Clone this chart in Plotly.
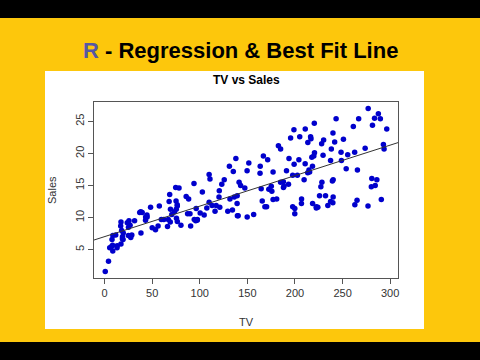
import numpy as np
import plotly.graph_objects as go

tv = [230.1, 44.5, 17.2, 151.5, 180.8, 8.7, 57.5, 120.2, 8.6, 199.8, 66.1, 214.7, 23.8, 97.5, 204.1, 195.4, 67.8, 281.4, 69.2, 147.3,
      218.4, 237.4, 13.2, 228.3, 62.3, 262.9, 142.9, 240.1, 248.8, 70.6, 292.9, 112.9, 97.2, 265.6, 95.7, 290.7, 266.9, 74.7, 43.1, 228.0,
      202.5, 177.0, 293.6, 206.9, 25.1, 175.1, 89.7, 239.9, 227.2, 66.9, 199.8, 100.4, 216.4, 182.6, 262.7, 198.9, 7.3, 136.2, 210.8, 210.7,
      53.5, 261.3, 239.3, 102.7, 131.1, 69.0, 31.5, 139.3, 237.4, 216.8, 199.1, 109.8, 26.8, 129.4, 213.4, 16.9, 27.5, 120.5, 5.4, 116.0,
      76.4, 239.8, 75.3, 68.4, 213.5, 193.2, 76.3, 110.7, 88.3, 109.8, 134.3, 28.6, 217.7, 250.9, 107.4, 163.3, 197.6, 184.9, 289.7, 135.2,
      222.4, 296.4, 280.2, 187.9, 238.2, 137.9, 25.0, 90.4, 13.1, 255.4, 225.8, 241.7, 175.7, 209.6, 78.2, 75.1, 139.2, 76.4, 125.7, 19.4,
      141.3, 18.8, 224.0, 123.1, 229.5, 87.2, 7.8, 80.2, 220.3, 59.6, 0.7, 265.2, 8.4, 219.8, 36.9, 48.3, 25.6, 273.7, 43.0, 184.9,
      73.4, 193.7, 220.5, 104.6, 96.2, 140.3, 240.1, 243.2, 38.0, 44.7, 280.7, 121.0, 197.6, 171.3, 187.8, 4.1, 93.9, 149.8, 11.7, 131.7,
      172.5, 85.7, 188.4, 163.5, 117.2, 234.5, 17.9, 206.8, 215.4, 284.3, 50.0, 164.5, 19.6, 168.4, 222.4, 276.9, 248.4, 170.2, 276.7, 165.6,
      156.6, 218.5, 56.2, 287.6, 253.8, 205.0, 139.5, 191.1, 286.0, 18.7, 39.5, 75.5, 17.2, 166.8, 149.7, 38.2, 94.2, 177.0, 283.6, 232.1]
sales = [22.1, 10.4, 9.3, 18.5, 12.9, 7.2, 11.8, 13.2, 4.8, 10.6, 8.6, 17.4, 9.2, 9.7, 19.0, 22.4, 12.5, 24.4, 11.3, 14.6,
         18.0, 12.5, 5.6, 15.5, 9.7, 12.0, 15.0, 15.9, 18.9, 10.5, 21.4, 11.9, 9.6, 17.4, 9.5, 12.8, 25.4, 14.7, 10.1, 21.5,
         16.6, 17.1, 20.7, 12.9, 8.5, 14.9, 10.6, 23.2, 14.8, 9.7, 11.4, 10.7, 22.6, 21.2, 20.2, 23.7, 5.5, 13.2, 23.8, 18.4,
         8.1, 24.2, 15.7, 14.0, 18.0, 9.3, 9.5, 13.4, 18.9, 22.3, 18.3, 12.4, 8.8, 11.0, 17.0, 8.7, 6.9, 14.2, 5.3, 11.0,
         11.8, 12.3, 11.3, 13.6, 21.7, 15.2, 12.0, 16.0, 12.9, 16.7, 11.2, 7.3, 19.4, 22.2, 11.5, 16.9, 11.7, 15.5, 25.4, 17.2,
         11.7, 23.8, 14.8, 14.7, 20.7, 19.2, 7.2, 8.7, 5.3, 19.8, 13.4, 21.8, 14.1, 15.9, 14.6, 12.6, 12.2, 9.4, 15.9, 6.6,
         15.5, 7.0, 11.6, 15.2, 19.7, 10.6, 6.6, 8.8, 24.7, 9.7, 1.6, 12.7, 5.7, 19.6, 10.8, 11.6, 9.5, 20.8, 9.6, 20.7,
         10.9, 19.2, 20.1, 10.4, 11.4, 10.3, 13.2, 25.4, 10.9, 10.1, 16.1, 11.6, 16.6, 19.0, 15.6, 3.2, 15.3, 10.1, 7.3, 12.9,
         14.4, 13.3, 14.9, 18.0, 11.9, 11.9, 8.0, 12.2, 17.1, 15.0, 8.4, 14.5, 7.6, 11.7, 11.5, 27.0, 20.2, 11.7, 11.8, 12.6,
         10.5, 12.2, 8.7, 26.2, 17.6, 22.6, 10.3, 17.3, 15.9, 6.7, 10.8, 9.9, 5.9, 19.6, 17.3, 7.6, 9.7, 12.8, 25.5, 13.4]

x_ticks = [0, 50, 100, 150, 200, 250, 300]
y_ticks = [5, 10, 15, 20, 25]

# least-squares fit (lm) as in abline(lm(Sales ~ TV))
slope, intercept = np.polyfit(tv, sales, 1)

xmin, xmax = min(tv), max(tv)
ymin, ymax = min(sales), max(sales)
xr = [xmin - 0.04 * (xmax - xmin), xmax + 0.04 * (xmax - xmin)]
yr = [ymin - 0.04 * (ymax - ymin), ymax + 0.04 * (ymax - ymin)]

W, H = 480, 360
L, R, T, B = 94, 398, 102, 278


def px(x):
    return (x - L) / (R - L)


def py(y):
    return (B - y) / (B - T)


fig = go.Figure()
fig.add_trace(go.Scatter(x=tv, y=sales, mode="markers",
                         marker=dict(color="#0000cc", size=5.5, line=dict(width=0)),
                         hoverinfo="x+y", showlegend=False))
fig.add_trace(go.Scatter(x=xr, y=[intercept + slope * v for v in xr], mode="lines",
                         line=dict(color="#333333", width=1), showlegend=False,
                         hoverinfo="skip"))

shapes = [
    dict(type="rect", xref="paper", yref="paper", x0=px(-5), x1=px(W + 5), y0=py(18), y1=py(342),
         fillcolor="#fdc70c", line=dict(width=0), layer="below"),
    dict(type="rect", xref="paper", yref="paper", x0=px(45), x1=px(424), y0=py(71), y1=py(329),
         fillcolor="white", line=dict(width=0), layer="below"),
]

font = "Liberation Sans, Arial, sans-serif"
annotations = [
    dict(text="<b><span style='color:#5757a3'>R</span> - Regression &amp; Best Fit Line</b>",
         xref="paper", yref="paper", x=px(240), y=py(50), showarrow=False,
         font=dict(family=font, size=22, color="black"), xanchor="center", yanchor="middle"),
    dict(text="<b>TV vs Sales</b>", xref="paper", yref="paper", x=0.5, y=py(80), showarrow=False,
         font=dict(family=font, size=12, color="black"), xanchor="center", yanchor="middle"),
    dict(text="TV", xref="paper", yref="paper", x=0.5, y=py(322), showarrow=False,
         font=dict(family=font, size=11, color="#333333"), xanchor="center", yanchor="middle"),
    dict(text="Sales", xref="paper", yref="paper", x=px(52), y=0.5, showarrow=False, textangle=-90,
         font=dict(family=font, size=11, color="#333333"), xanchor="center", yanchor="middle"),
]

fig.update_layout(
    width=W, height=H,
    margin=dict(l=L, r=W - R, t=T, b=H - B, pad=0),
    paper_bgcolor="black", plot_bgcolor="white",
    shapes=shapes, annotations=annotations,
    font=dict(family=font, size=11, color="#333333"),
    showlegend=False,
)
fig.update_xaxes(range=xr, tickvals=x_ticks, ticks="outside", ticklen=5, tickcolor="#555555",
                 showline=True, mirror=True, linecolor="#555555", linewidth=1,
                 showgrid=False, zeroline=False, tickfont=dict(size=11, color="#333333"))
fig.update_yaxes(range=yr, tickvals=y_ticks, ticks="outside", ticklen=5, tickcolor="#555555",
                 showline=True, mirror=True, linecolor="#555555", linewidth=1, tickangle=-90,
                 showgrid=False, zeroline=False, tickfont=dict(size=11, color="#333333"))

fig.write_html("out.html", config={"displayModeBar": False},
               post_script="document.body.style.margin='0';document.body.style.overflow='hidden';")
